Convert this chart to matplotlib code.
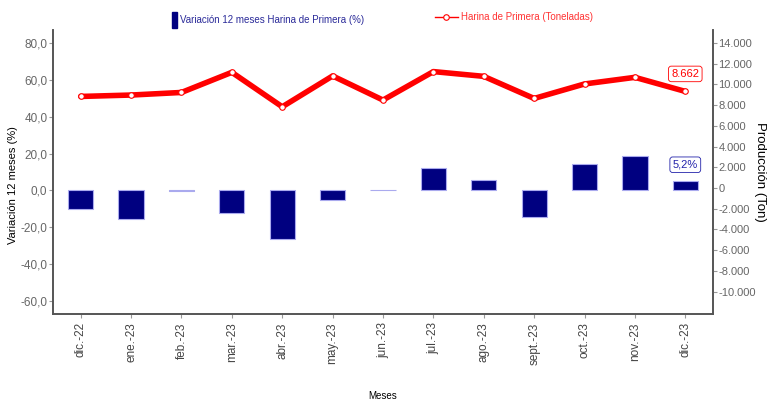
import numpy as np
import matplotlib.pyplot as plt
from matplotlib.lines import Line2D
from matplotlib.patches import Rectangle

# data
meses = ['dic.-22', 'ene.-23', 'feb.-23', 'mar.-23', 'abr.-23', 'may.-23', 'jun.-23',
         'jul.-23', 'ago.-23', 'sept.-23', 'oct.-23', 'nov.-23', 'dic.-23']
variacion = [-10.2, -15.7, -0.3, -12.4, -26.2, -5.1, 0.5, 12.2, 5.6, -14.6, 14.6, 18.5, 5.2]
produccion = [8835, 8970, 9220, 11165, 7835, 10815, 8485, 11235, 10775, 8640, 10040, 10680, 9320]
etiqueta_prod = '8.662'
etiqueta_var = '5,2%'

left_ticks = [-60, -40, -20, 0, 20, 40, 60, 80]
right_ticks = [-10000, -8000, -6000, -4000, -2000, 0, 2000, 4000, 6000, 8000, 10000, 12000, 14000]

font = 'Liberation Sans'
navy = '#000080'
red = '#ff0000'
grey = '#555555'

fig = plt.figure(figsize=(7.73, 4.03), dpi=100)
ax = fig.add_axes([53/773, 89/403, 660/773, 284/403])
ax2 = ax.twinx()

x = np.arange(len(meses))
ax.bar(x, variacion, width=0.5, color=navy, edgecolor='#aaaaee', linewidth=0.8)
ax2.plot(x, produccion, color=red, lw=4, marker='o', ms=4, mfc='white', mec=red, mew=0.8,
         solid_capstyle='round')

ax.set_xlim(-0.55, 12.55)
ax.set_ylim(-67, 87)
ax2.set_ylim(-12170, 15250)

ax.set_xticks(x)
ax.set_xticklabels(meses, rotation=90, fontsize=8.5, family=font, color='#444444')
ax.set_yticks(left_ticks)
ax.set_yticklabels(['{:.1f}'.format(v).replace('.', ',') for v in left_ticks],
                   fontsize=8.5, family=font, color='#666666')
ax2.set_yticks(right_ticks)
ax2.set_yticklabels(['{:,}'.format(v).replace(',', '.') for v in right_ticks],
                    fontsize=8, family=font, color='#666666')

for a in (ax, ax2):
    a.spines['top'].set_visible(False)
    for s in ('left', 'right', 'bottom'):
        a.spines[s].set_color(grey)
        a.spines[s].set_linewidth(1.2)
    a.tick_params(length=3, width=0.8, color='#999999', pad=1)
ax.tick_params(axis='x', pad=3)

ax.set_ylabel('Variación 12 meses (%)', fontsize=8, family=font)
ax.yaxis.set_label_coords((18 - 53) / 660, (314 - 185) / 284)
ax2.set_ylabel('Producción (Ton)', fontsize=9.5, family=font, rotation=270, va='center')
ax2.yaxis.set_label_coords((760 - 53) / 660, 0.5)
ax.set_xlabel('Meses', fontsize=7, family=font, va='center')
ax.xaxis.set_label_coords(0.5, (314 - 396) / 284)

# value labels
ax2.annotate(etiqueta_prod, (x[-1], produccion[-1]), xytext=(0, 9), textcoords='offset points',
             ha='center', va='bottom', fontsize=8, family=font, color=red,
             bbox=dict(boxstyle='round,pad=0.25', fc='white', ec=red, lw=0.6))
ax.annotate(etiqueta_var, (x[-1], variacion[-1]), xytext=(0, 8), textcoords='offset points',
            ha='center', va='bottom', fontsize=8, family=font, color='#2222aa',
            bbox=dict(boxstyle='round,pad=0.25', fc='white', ec='#2222aa', lw=0.6))

# legend at the top
fig.patches.append(Rectangle((172/773, 1 - 28/403), 5/773, 16/403, transform=fig.transFigure,
                             color=navy))
fig.text(180/773, 1 - 20/403, 'Variación 12 meses Harina de Primera (%)', fontsize=7,
         family=font, color='#2a2a99', va='center')
fig.lines.append(Line2D([435/773, 458/773], [1 - 17/403, 1 - 17/403], transform=fig.transFigure,
                        color=red, lw=1))
fig.lines.append(Line2D([446/773], [1 - 17/403], transform=fig.transFigure, color=red,
                        marker='o', ms=4, mfc='white', mec=red, mew=0.8, lw=0))
fig.text(461/773, 1 - 17/403, 'Harina de Primera (Toneladas)', fontsize=7,
         family=font, color='#ff3333', va='center')

plt.savefig('out.png', dpi=100)
